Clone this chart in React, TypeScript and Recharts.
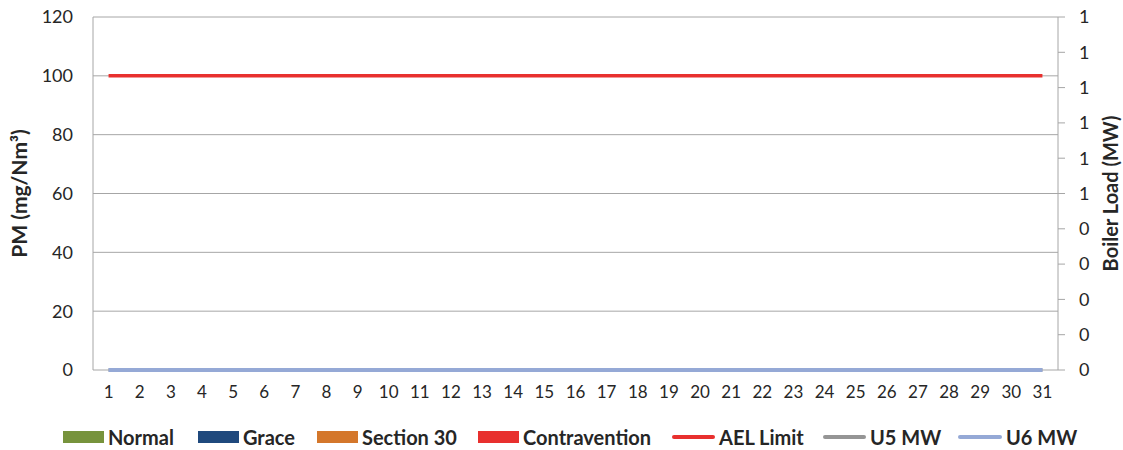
import React from "react";
import {
  ComposedChart,
  Bar,
  Line,
  XAxis,
  YAxis,
  CartesianGrid,
} from "recharts";

const days = [
  "1", "2", "3", "4", "5", "6", "7", "8", "9", "10", "11", "12", "13", "14", "15", "16",
  "17", "18", "19", "20", "21", "22", "23", "24", "25", "26", "27", "28", "29", "30", "31",
];
const normal = [0, 0, 0, 0, 0, 0, 0, 0, 0, 0, 0, 0, 0, 0, 0, 0, 0, 0, 0, 0, 0, 0, 0, 0, 0, 0, 0, 0, 0, 0, 0];
const grace = [0, 0, 0, 0, 0, 0, 0, 0, 0, 0, 0, 0, 0, 0, 0, 0, 0, 0, 0, 0, 0, 0, 0, 0, 0, 0, 0, 0, 0, 0, 0];
const section30 = [0, 0, 0, 0, 0, 0, 0, 0, 0, 0, 0, 0, 0, 0, 0, 0, 0, 0, 0, 0, 0, 0, 0, 0, 0, 0, 0, 0, 0, 0, 0];
const contravention = [0, 0, 0, 0, 0, 0, 0, 0, 0, 0, 0, 0, 0, 0, 0, 0, 0, 0, 0, 0, 0, 0, 0, 0, 0, 0, 0, 0, 0, 0, 0];
const aelLimit = [100, 100, 100, 100, 100, 100, 100, 100, 100, 100, 100, 100, 100, 100, 100, 100, 100, 100, 100, 100, 100, 100, 100, 100, 100, 100, 100, 100, 100, 100, 100];
const u5MW = [0, 0, 0, 0, 0, 0, 0, 0, 0, 0, 0, 0, 0, 0, 0, 0, 0, 0, 0, 0, 0, 0, 0, 0, 0, 0, 0, 0, 0, 0, 0];
const u6MW = [0, 0, 0, 0, 0, 0, 0, 0, 0, 0, 0, 0, 0, 0, 0, 0, 0, 0, 0, 0, 0, 0, 0, 0, 0, 0, 0, 0, 0, 0, 0];

const leftTicks = [0, 20, 40, 60, 80, 100, 120];
const rightTicks = [0, 0.1, 0.2, 0.3, 0.4, 0.5, 0.6, 0.7, 0.8, 0.9, 1];

const data = days.map((d, i) => ({
  day: d,
  normal: normal[i],
  grace: grace[i],
  section30: section30[i],
  contravention: contravention[i],
  ael: aelLimit[i],
  u5: u5MW[i],
  u6: u6MW[i],
}));

const FONT = "Lato, 'Open Sans', sans-serif";
const TEXT = "#262626";
const GRID = "#A6A6A6";

const legendItems = [
  { label: "Normal", color: "#77933C", kind: "box", x: 63, w: 41 },
  { label: "Grace", color: "#1F497D", kind: "box", x: 198, w: 41 },
  { label: "Section 30", color: "#D4772B", kind: "box", x: 317, w: 41 },
  { label: "Contravention", color: "#E8302E", kind: "box", x: 478, w: 41 },
  { label: "AEL Limit", color: "#E8302E", kind: "line", x: 672, w: 43 },
  { label: "U5 MW", color: "#959595", kind: "line", x: 823, w: 43 },
  { label: "U6 MW", color: "#95A9D6", kind: "line", x: 958, w: 44 },
];

export default function App() {
  return (
    <div style={{ position: "absolute", left: 0, top: 0, width: 1123, height: 450, fontFamily: FONT, background: "#fff" }}>
      <ComposedChart
        width={1123}
        height={450}
        data={data}
        margin={{ top: 17, right: 0, bottom: 50, left: 0 }}
        barGap={0}
      >
        <CartesianGrid yAxisId="left" vertical={false} stroke={GRID} strokeWidth={1} />
        <XAxis
          dataKey="day"
          height={30}
          tickLine={false}
          axisLine={false}
          tick={{ fill: TEXT, fontSize: 17, fontFamily: FONT }}
          tickMargin={10}
          interval={0}
        />
        <YAxis
          yAxisId="left"
          orientation="left"
          width={93}
          domain={[0, 120]}
          ticks={leftTicks}
          tickLine={false}
          tickSize={6}
          tickMargin={14}
          axisLine={{ stroke: GRID, strokeWidth: 1 }}
          tick={{ fill: TEXT, fontSize: 18, fontFamily: FONT }}
          label={{
            value: "PM (mg/Nm³)",
            angle: -90,
            position: "insideLeft",
            offset: 0,
            dx: 20,
            style: { fill: TEXT, fontSize: 21, fontWeight: 700, fontFamily: FONT, textAnchor: "middle" },
          }}
        />
        <YAxis
          yAxisId="right"
          orientation="right"
          width={65}
          domain={[0, 1]}
          ticks={rightTicks}
          tickFormatter={(v: number) => String(Math.round(v))}
          tickLine={{ stroke: GRID, strokeWidth: 1 }}
          tickSize={7}
          tickMargin={14}
          axisLine={{ stroke: GRID, strokeWidth: 1 }}
          tick={{ fill: TEXT, fontSize: 18, fontFamily: FONT, textAnchor: "start" }}
          label={{
            value: "Boiler Load (MW)",
            angle: -90,
            position: "insideRight",
            offset: 0,
            dx: -12,
            style: { fill: TEXT, fontSize: 20, fontWeight: 700, fontFamily: FONT, textAnchor: "middle" },
          }}
        />
        <Bar yAxisId="left" dataKey="normal" stackId="a" fill="#77933C" isAnimationActive={false} />
        <Bar yAxisId="left" dataKey="grace" stackId="a" fill="#1F497D" isAnimationActive={false} />
        <Bar yAxisId="left" dataKey="section30" stackId="a" fill="#D4772B" isAnimationActive={false} />
        <Bar yAxisId="left" dataKey="contravention" stackId="a" fill="#E8302E" isAnimationActive={false} />
        <Line yAxisId="left" dataKey="ael" stroke="#E8302E" strokeWidth={3.5} dot={false} isAnimationActive={false} />
        <Line yAxisId="right" dataKey="u5" stroke="#959595" strokeWidth={3.5} dot={false} isAnimationActive={false} />
        <Line yAxisId="right" dataKey="u6" stroke="#95A9D6" strokeWidth={4} dot={false} isAnimationActive={false} />
      </ComposedChart>
      {legendItems.map((it) => (
        <div key={it.label}>
          <div
            style={{
              position: "absolute",
              left: it.x,
              top: it.kind === "box" ? 431 : 435,
              width: it.w,
              height: it.kind === "box" ? 12 : 4,
              borderRadius: it.kind === "line" ? 2 : 0,
              background: it.color,
            }}
          />
          <div
            style={{
              position: "absolute",
              left: it.x + it.w + 4,
              top: 424,
              lineHeight: "26px",
              fontSize: 20,
              fontWeight: 700,
              color: TEXT,
              whiteSpace: "nowrap",
            }}
          >
            {it.label}
          </div>
        </div>
      ))}
    </div>
  );
}
